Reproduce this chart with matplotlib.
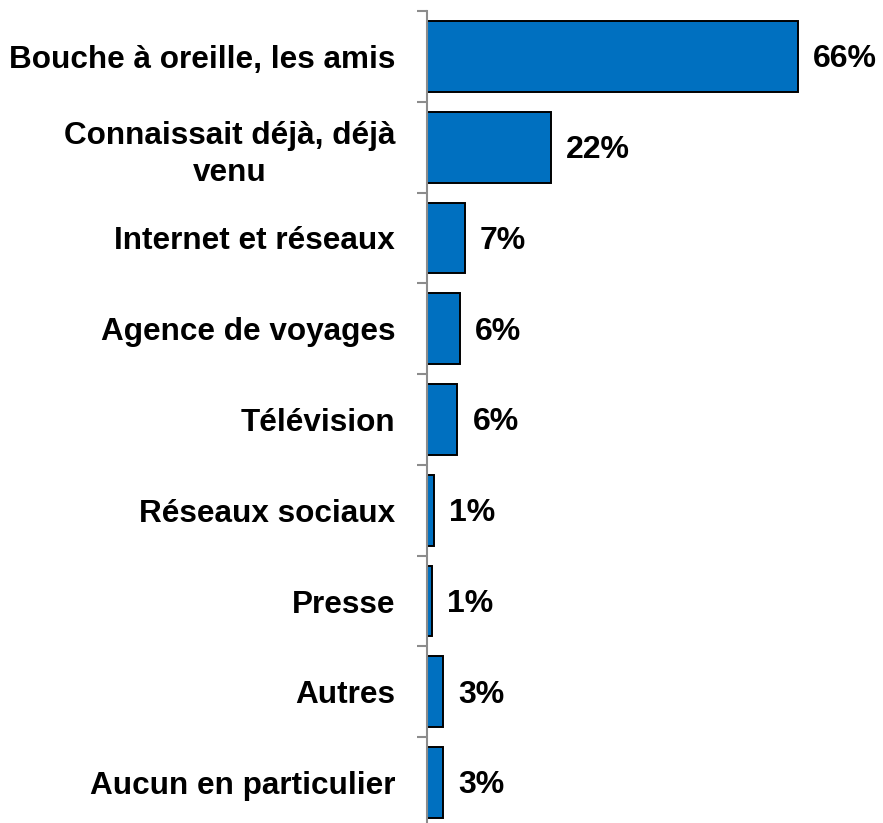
import matplotlib
matplotlib.use("Agg")
import matplotlib.pyplot as plt
import numpy as np

categories = ["Bouche à oreille, les amis", "Connaissait déjà, déjà\nvenu",
              "Internet et réseaux", "Agence de voyages", "Télévision",
              "Réseaux sociaux", "Presse", "Autres", "Aucun en particulier"]
values = [66.0, 22.1, 6.8, 5.9, 5.5, 1.3, 0.9, 2.9, 2.9]
value_labels = ["66%", "22%", "7%", "6%", "6%", "1%", "1%", "3%", "3%"]

plt.rcParams['font.family'] = ['Liberation Sans', 'DejaVu Sans']

W, H = 883, 823
fig = plt.figure(figsize=(W/100, H/100), dpi=100)
left = 426.5 / W
top_px, bot_px = 11, 828
ax = fig.add_axes([left, (H - bot_px) / H, (876.5 - 426.5) / W, (bot_px - top_px) / H])

n = len(categories)
y = np.arange(n)
ax.barh(y, values, height=0.78, color="#0070C0", edgecolor="black", linewidth=1.4)
ax.set_ylim(n - 0.5, -0.5)
ax.set_xlim(0, 80)

ax.set_yticks(y)
ax.set_yticklabels(categories, fontsize=22.7, fontweight="bold", multialignment="center",
                   linespacing=1.3)
ax.tick_params(axis="y", which="major", length=0, pad=22.5)
ax.set_yticks(np.arange(-0.5, n, 1.0), minor=True)
ax.tick_params(axis="y", which="minor", length=7, width=1.5, color="#8c8c8c", direction="out")
ax.set_xticks([])

for s in ["top", "right", "bottom"]:
    ax.spines[s].set_visible(False)
ax.spines["left"].set_color("#8c8c8c")
ax.spines["left"].set_linewidth(1.5)

for yi, v, lab in zip(y, values, value_labels):
    ax.annotate(lab, xy=(v, yi), xytext=(11, -2), textcoords="offset points",
                ha="left", va="center", fontsize=23, fontweight="bold")

fig.savefig("out.png", dpi=100)
